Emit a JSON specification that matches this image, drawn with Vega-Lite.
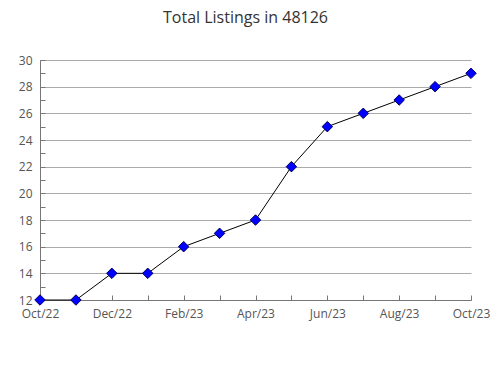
{
  "$schema": "https://vega.github.io/schema/vega-lite/v6.json",
  "autosize": "none",
  "width": 431,
  "height": 240,
  "padding": {"left": 40, "top": 60, "right": 19, "bottom": 80},
  "background": "white",
  "title": {"text": "Total Listings in 48126", "font": "Open Sans", "fontSize": 16, "fontWeight": "normal", "color": "#333333", "offset": 28, "dx": -10},
  "data": {"values": [
    {"month": "Oct/22", "listings": 12},
    {"month": "Nov/22", "listings": 12},
    {"month": "Dec/22", "listings": 14},
    {"month": "Jan/23", "listings": 14},
    {"month": "Feb/23", "listings": 16},
    {"month": "Mar/23", "listings": 17},
    {"month": "Apr/23", "listings": 18},
    {"month": "May/23", "listings": 22},
    {"month": "Jun/23", "listings": 25},
    {"month": "Jul/23", "listings": 26},
    {"month": "Aug/23", "listings": 27},
    {"month": "Sep/23", "listings": 28},
    {"month": "Oct/23", "listings": 29}
  ]},
  "config": {
    "view": {"stroke": null},
    "axis": {"labelFont": "Open Sans", "labelFontSize": 12, "labelColor": "#555555", "domainColor": "#777777", "tickColor": "#777777", "gridColor": "#aaaaaa", "title": null}
  },
  "encoding": {
    "x": {"field": "month", "type": "ordinal", "sort": null,
      "scale": {"type": "point", "padding": 0},
      "axis": {"labelAngle": 0, "tickSize": -5, "labelPadding": 13, "grid": false,
        "labelExpr": "indexof(['Oct/22','Dec/22','Feb/23','Apr/23','Jun/23','Aug/23','Oct/23'], datum.value) >= 0 ? datum.label : ''"}},
    "y": {"field": "listings", "type": "quantitative",
      "scale": {"domain": [12, 30], "nice": false, "zero": false},
      "axis": {"values": [12,13,14,15,16,17,18,19,20,21,22,23,24,25,26,27,28,29,30], "tickSize": -5, "labelPadding": 13,
        "labelExpr": "datum.value % 2 === 0 ? datum.label : ''",
        "gridOpacity": {"condition": {"test": "datum.value % 2 === 1", "value": 0}, "value": 1}}}
  },
  "layer": [
    {"mark": {"type": "line", "color": "black", "strokeWidth": 1}},
    {"mark": {"type": "point", "shape": "diamond", "filled": true, "size": 110, "fill": "#0000ff", "stroke": "#000066", "strokeWidth": 1, "opacity": 1}}
  ]
}
